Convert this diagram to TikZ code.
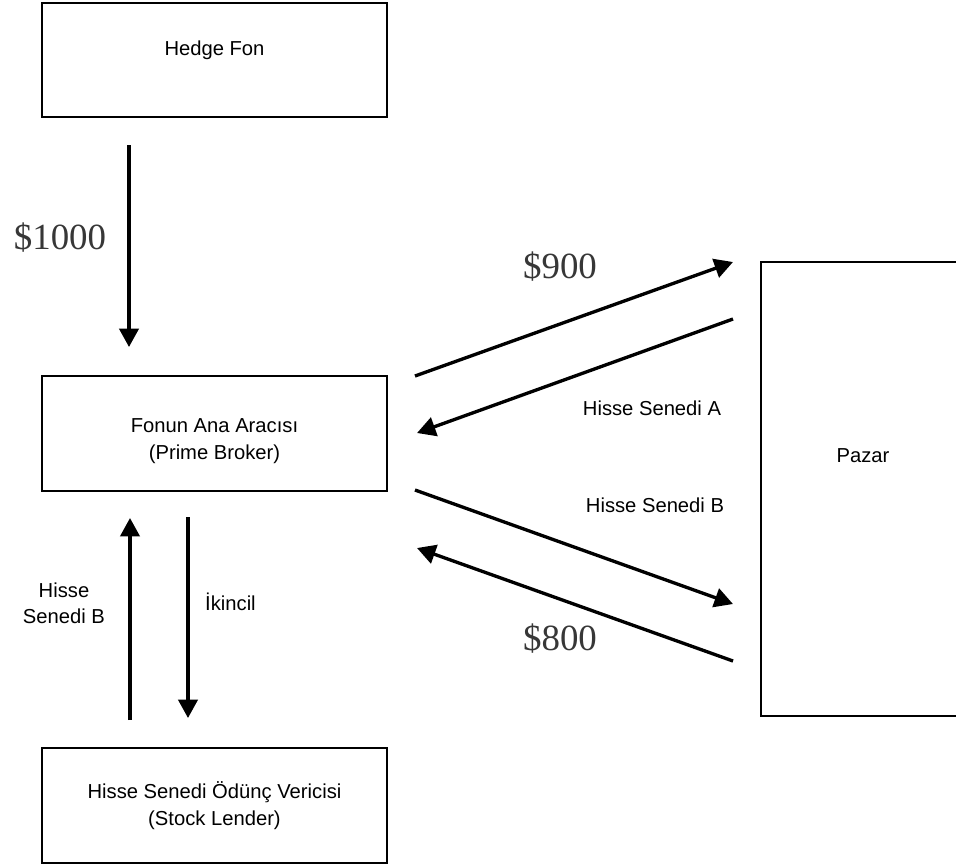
\documentclass[tikz,border=0pt]{standalone}
\usepackage{fontspec}
\setmainfont{Liberation Serif}
\setsansfont{Liberation Sans}
\usetikzlibrary{arrows.meta,positioning,calc}
\definecolor{amountgray}{RGB}{55,55,55}
\tikzset{
  actorbox/.style={draw,line width=0.8pt,inner sep=0pt},
  boxtext/.style={font=\sffamily\fontsize{11.5}{15}\selectfont,align=center},
  flowarrow/.style={line width=1.9pt,-{Triangle[length=10.5pt,width=11pt]}},
  amountlabel/.style={font=\rmfamily\fontsize{21}{24}\selectfont,text=amountgray},
  assetlabel/.style={font=\sffamily\fontsize{11.5}{15}\selectfont,align=center}
}
\begin{document}
\begin{tikzpicture}[x=0.02cm,y=-0.02cm]
  \clip (0,0) rectangle (956,867);
  % boxes
  \node[actorbox,minimum width=6.9cm,minimum height=2.28cm,
        label={[boxtext,yshift=0.2cm]center:Hedge Fon}] (hedge) at (214.5,60) {};
  \node[actorbox,minimum width=6.9cm,minimum height=2.3cm,
        label={[boxtext,yshift=-0.15cm]center:Fonun Ana Aracısı\\(Prime Broker)}] (broker) at (214.5,433.5) {};
  \node[actorbox,minimum width=6.9cm,minimum height=2.3cm,
        label={[boxtext]center:Hisse Senedi Ödünç Vericisi\\(Stock Lender)}] (lender) at (214.5,805.5) {};
  \node[actorbox,minimum width=4.08cm,minimum height=9.08cm,
        label={[boxtext,yshift=0.66cm]center:Pazar}] (market) at (863,489) {};
  % arrow ends
  \coordinate (cashin) at (129,145);   \coordinate (cashout) at (129,347);
  \coordinate (loanin) at (130,720);   \coordinate (loanout) at (130,518);
  \coordinate (collin) at (188,517);   \coordinate (collout) at (188,718);
  \coordinate (buyin) at (415,376);    \coordinate (buyout) at (733,262);
  \coordinate (stockAin) at (733,319); \coordinate (stockAout) at (417,433);
  \coordinate (stockBin) at (415,490); \coordinate (stockBout) at (733,604);
  \coordinate (sellin) at (733,661);   \coordinate (sellout) at (417,548);
  % flows
  \draw[flowarrow] (cashin) -- (cashout);
  \draw[flowarrow] (loanin) -- (loanout);
  \draw[flowarrow] (collin) -- (collout);
  \draw[flowarrow] (buyin) -- (buyout);
  \draw[flowarrow] (stockAin) -- (stockAout);
  \draw[flowarrow] (stockBin) -- (stockBout);
  \draw[flowarrow] (sellin) -- (sellout);
  % labels
  \node[amountlabel] (amt1000) at (60,238) {\$1000};
  \node[amountlabel] (amt900) at (560,267) {\$900};
  \node[amountlabel] (amt800) at (560,639) {\$800};
  \node[assetlabel] (lentB) at (64,603) {Hisse\\Senedi B};
  \node[assetlabel,anchor=west] (collat) at (199,602) {İkincil};
  \node[assetlabel] (gotA) at (652,408) {Hisse Senedi A};
  \node[assetlabel] (soldB) at (655,505) {Hisse Senedi B};
\end{tikzpicture}
\end{document}
